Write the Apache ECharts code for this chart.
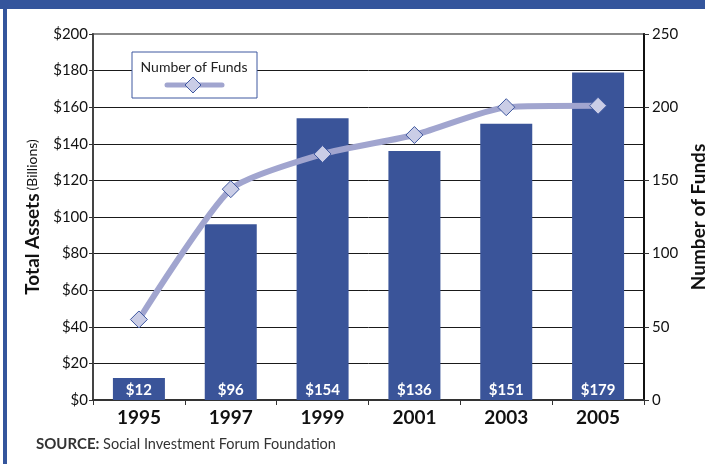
<!DOCTYPE html>
<html>
<head>
<meta charset="utf-8">
<script src="https://cdn.jsdelivr.net/npm/echarts@6/dist/echarts.min.js"></script>
<style>
  html, body { margin: 0; padding: 0; background: #fff; }
  #chart { width: 705px; height: 464px; }
</style>
</head>
<body>
<div id="chart"></div>
<script>
// data
var years = ['1995', '1997', '1999', '2001', '2003', '2005'];
var assets = [12, 96, 154, 136, 151, 179];      // $ billions
var funds = [55, 144, 168, 181, 200, 201];      // number of funds
var assetTicks = [0, 20, 40, 60, 80, 100, 120, 140, 160, 180, 200];

var FONT = 'Lato, "Open Sans", sans-serif';
var BAR = '#3a5499';
var LINE = '#a1a5cf';

// grid lines: black except the top one (drawn by the grid border instead)
var splitColors = assetTicks.map(function (v, i) {
    return i == assetTicks.length - 1 ? 'transparent' : '#1a1a1a';
});

var chart = echarts.init(document.getElementById('chart'));
chart.setOption({
    animation: false,
    textStyle: { fontFamily: FONT },
    grid: {
        left: 93, right: 61, top: 34, bottom: 64,
        outerBoundsMode: 'none', containLabel: false,
        show: true, borderColor: '#8a8a8a', borderWidth: 2, backgroundColor: '#fff'
    },
    title: {
        left: 31, top: 432,
        text: '{b|SOURCE:}{r| Social Investment Forum Foundation}',
        textStyle: {
            fontWeight: 'normal',
            rich: {
                b: { fontFamily: FONT, fontWeight: 'bold', fontSize: 15, color: '#333' },
                r: { fontFamily: FONT, fontWeight: 'normal', fontSize: 14.5, color: '#333' }
            }
        }
    },
    xAxis: {
        type: 'category',
        data: years,
        axisLine: { lineStyle: { color: '#333', width: 2 } },
        axisTick: { show: true, length: 5, lineStyle: { color: '#333' } },
        axisLabel: { margin: 8, fontSize: 19, fontWeight: 'bold', color: '#111', fontFamily: FONT }
    },
    yAxis: [{
        type: 'value',
        min: 0, max: 200, interval: 20,
        name: '{b|Total Assets} {r|(Billions)}',
        nameLocation: 'middle', nameRotate: 90, nameGap: 50,
        nameTextStyle: {
            rich: {
                b: { fontFamily: FONT, fontWeight: 'bold', fontSize: 19, color: '#111' },
                r: { fontFamily: FONT, fontWeight: 'normal', fontSize: 14, color: '#111' }
            }
        },
        axisLine: { show: true, lineStyle: { color: '#444', width: 2 } },
        axisTick: { show: true, length: 4, lineStyle: { color: '#333' } },
        axisLabel: { margin: 5, fontSize: 15, color: '#111', fontFamily: FONT, formatter: '${value}' },
        splitLine: { show: true, lineStyle: { color: splitColors, width: 1 } }
    }, {
        type: 'value',
        min: 0, max: 250, interval: 50,
        position: 'right',
        name: 'Number of Funds',
        nameLocation: 'middle', nameRotate: 90, nameGap: 41,
        nameTextStyle: { fontFamily: FONT, fontWeight: 'bold', fontSize: 19, color: '#111' },
        axisLine: { show: true, lineStyle: { color: '#111', width: 2 } },
        axisTick: { show: true, length: 5, lineStyle: { color: '#333' } },
        axisLabel: { margin: 8, fontSize: 15, color: '#111', fontFamily: FONT },
        splitLine: { show: false }
    }],
    series: [{
        name: 'Total Assets',
        type: 'bar',
        data: assets,
        barWidth: 52,
        itemStyle: { color: BAR },
        label: {
            show: true, position: 'insideBottom', distance: 2,
            color: '#fff', fontWeight: 'bold', fontSize: 15, fontFamily: FONT,
            formatter: function (p) { return '$' + p.value; }
        },
        z: 2
    }, {
        name: 'Number of Funds',
        type: 'line',
        yAxisIndex: 1,
        data: funds,
        smooth: 0.2,
        lineStyle: { color: LINE, width: 6 },
        symbol: 'diamond',
        symbolSize: 17,
        itemStyle: { color: '#cacde6', borderColor: '#3f58a0', borderWidth: 1 },
        z: 5
    }],
    graphic: [
        // frame
        { type: 'rect', shape: { x: 0, y: 0, width: 705, height: 9 }, style: { fill: '#34559c' }, z: 10 },
        { type: 'rect', shape: { x: 3, y: 0, width: 4, height: 464 }, style: { fill: '#34559c' }, z: 10 },
        // legend box
        {
            type: 'group', x: 132, y: 52, z: 20,
            children: [
                { type: 'rect', z: 20, shape: { x: 0, y: 0, width: 125, height: 46 },
                  style: { fill: '#fff', stroke: '#3f58a0', lineWidth: 1 } },
                { type: 'text', z: 21, x: 62, y: 15,
                  style: { text: 'Number of Funds', fontFamily: FONT, fontSize: 14, fill: '#222',
                           align: 'center', verticalAlign: 'middle' } },
                { type: 'line', z: 21, shape: { x1: 35, y1: 33, x2: 90, y2: 33 },
                  style: { stroke: LINE, lineWidth: 5, lineCap: 'round' } },
                { type: 'polygon', z: 22, shape: { points: [[61, 25], [69, 33], [61, 41], [53, 33]] },
                  style: { fill: '#cacde6', stroke: '#3f58a0', lineWidth: 1 } }
            ]
        }
    ]
});
</script>
</body>
</html>
